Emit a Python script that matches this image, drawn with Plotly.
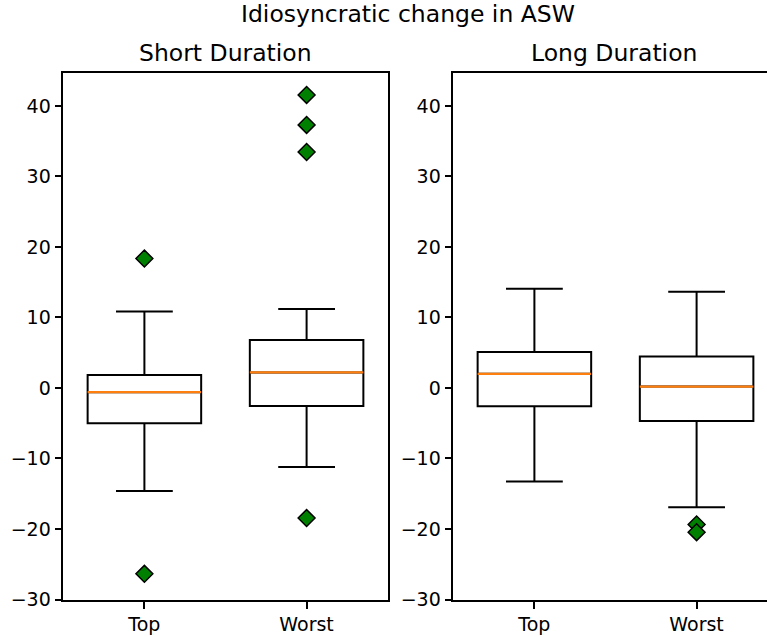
import plotly.graph_objects as go

# ---- data ----
categories = ["Top", "Worst"]
panel_titles = ["Short Duration", "Long Duration"]
suptitle = "Idiosyncratic change in ASW"

# Short Duration panel
short_lower = [-14.6, -11.2]
short_q1 = [-5.0, -2.55]
short_median = [-0.6, 2.2]
short_q3 = [1.85, 6.8]
short_upper = [10.85, 11.2]
short_out_top = [18.35, -26.35]
short_out_worst = [41.55, 37.3, 33.45, -18.45]

# Long Duration panel
long_lower = [-13.25, -16.9]
long_q1 = [-2.6, -4.7]
long_median = [2.0, 0.2]
long_q3 = [5.1, 4.45]
long_upper = [14.05, 13.65]
long_out_top = []
long_out_worst = [-19.35, -20.45]

y_ticks = [-30, -20, -10, 0, 10, 20, 30, 40]

# ---- figure ----
W, H = 767, 637
BOX_W = 0.7
FONT = "DejaVu Sans"
positions = [i + 1 for i in range(len(categories))]

fig = go.Figure()

panels = [
    ("x", "y", short_lower, short_q1, short_median, short_q3, short_upper,
     [short_out_top, short_out_worst]),
    ("x2", "y2", long_lower, long_q1, long_median, long_q3, long_upper,
     [long_out_top, long_out_worst]),
]

for xa, ya, lo, q1, med, q3, up, outs in panels:
    fig.add_trace(go.Box(
        x=positions, q1=q1, median=med, q3=q3, lowerfence=lo, upperfence=up,
        width=BOX_W, whiskerwidth=0.5, boxpoints=False,
        line=dict(color="black", width=2), fillcolor="white",
        xaxis=xa, yaxis=ya, showlegend=False, hoverinfo="skip",
    ))
    mx, my = [], []
    for p, m in zip(positions, med):
        mx += [p - BOX_W / 2, p + BOX_W / 2, None]
        my += [m, m, None]
    fig.add_trace(go.Scatter(
        x=mx, y=my, mode="lines", line=dict(color="#ff7f0e", width=2.2),
        xaxis=xa, yaxis=ya, showlegend=False, hoverinfo="skip",
    ))
    ox, oy = [], []
    for p, vals in zip(positions, outs):
        ox += [p] * len(vals)
        oy += list(vals)
    fig.add_trace(go.Scatter(
        x=ox, y=oy, mode="markers",
        marker=dict(symbol="diamond", size=13, color="#008000",
                    line=dict(color="black", width=1.5)),
        xaxis=xa, yaxis=ya, showlegend=False, hoverinfo="skip",
    ))

px_per_unit = (387.7 - 63.3) / 2.0
right_end = 0.5 + (W - 453.3) / px_per_unit

common_x = dict(
    tickmode="array", tickvals=positions, ticktext=categories,
    showgrid=False, zeroline=False, showline=True, linecolor="black",
    linewidth=1.5, ticks="outside", ticklen=7, tickwidth=1.5,
    tickcolor="black", tickfont=dict(family=FONT, size=19, color="black"),
    automargin=False, fixedrange=True,
)
common_y = dict(
    range=[-30.05, 44.7], tickmode="array", tickvals=y_ticks,
    showgrid=False, zeroline=False, showline=True, linecolor="black",
    linewidth=1.5, ticks="outside", ticklen=7, tickwidth=1.5,
    tickcolor="black", tickfont=dict(family=FONT, size=19, color="black"),
    automargin=False, fixedrange=True,
)

y_dom = [1 - 599.9 / H, 1 - 72.7 / H]

fig.update_layout(
    width=W, height=H,
    margin=dict(l=0, r=0, t=0, b=0),
    paper_bgcolor="white", plot_bgcolor="white",
    showlegend=False,
    xaxis=dict(common_x, domain=[63.3 / W, 387.7 / W], range=[0.5, 2.5],
               mirror=True, anchor="y"),
    yaxis=dict(common_y, domain=y_dom, mirror=True, anchor="x"),
    xaxis2=dict(common_x, domain=[453.3 / W, 1.0], range=[0.5, right_end],
                mirror=True, anchor="y2"),
    yaxis2=dict(common_y, domain=y_dom, mirror=False, anchor="x2"),
    annotations=[
        dict(text=suptitle, x=408 / W, y=1 - 14 / H, xref="paper", yref="paper",
             xanchor="center", yanchor="middle", showarrow=False,
             font=dict(family=FONT, size=23.5, color="black")),
        dict(text=panel_titles[0], x=225.5 / W, y=1 - 53 / H, xref="paper",
             yref="paper", xanchor="center", yanchor="middle", showarrow=False,
             font=dict(family=FONT, size=23.5, color="black")),
        dict(text=panel_titles[1], x=613.5 / W, y=1 - 53 / H, xref="paper",
             yref="paper", xanchor="center", yanchor="middle", showarrow=False,
             font=dict(family=FONT, size=23.5, color="black")),
    ],
)

fig.write_html("out.html")
